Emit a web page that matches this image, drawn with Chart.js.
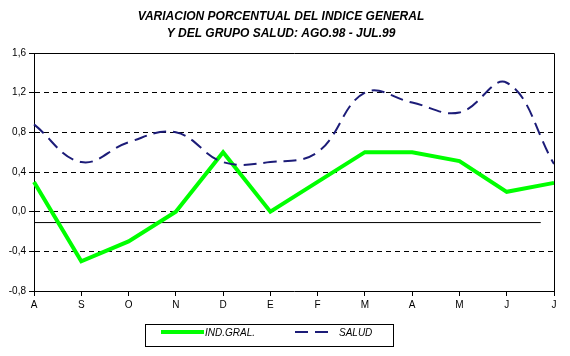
<!DOCTYPE html>
<html><head><meta charset="utf-8">
<script src="https://cdn.jsdelivr.net/npm/chart.js@4"></script>
<style>html,body{margin:0;padding:0;background:#fff}#wrap{width:570px;height:356px}</style>
</head><body><div id="wrap"><canvas id="c" width="570" height="356"></canvas></div>
<script>
const titleLines = ["VARIACION PORCENTUAL DEL INDICE GENERAL", "Y DEL GRUPO SALUD: AGO.98 - JUL.99"];
const categories = ["A","S","O","N","D","E","F","M","A","M","J","J"];
const indGral = [0.3,-0.5,-0.3,0.0,0.6,0.0,0.3,0.6,0.6,0.51,0.2,0.29];
const salud = [0.88,0.5,0.7,0.8,0.5,0.5,0.6,1.2,1.1,1.0,1.3,0.48];
const refLineY = -0.11;
const refLineX = [0, 10.72];
const yTicks = [-0.8,-0.4,0.0,0.4,0.8,1.2,1.6];
const seriesNames = ["IND.GRAL.","SALUD"];

const FONT = "'Liberation Sans', Arial, sans-serif";

const overlay = {
  id:'overlay',
  afterDraw(chart){
    const ctx = chart.ctx, a = chart.chartArea;
    ctx.save();
    ctx.strokeStyle='#000'; ctx.lineWidth=1; ctx.setLineDash([]);
    ctx.beginPath();
    ctx.moveTo(a.left, a.top+0.5); ctx.lineTo(a.right+0.5, a.top+0.5);
    ctx.lineTo(a.right+0.5, a.bottom);
    ctx.stroke();
    // title
    ctx.fillStyle='#000';
    ctx.font = "italic bold 12px " + FONT;
    ctx.textAlign='center'; ctx.textBaseline='middle';
    ctx.fillText(titleLines[0], 281, 17);
    ctx.fillText(titleLines[1], 281, 34);
    // legend
    ctx.lineWidth=1;
    ctx.strokeRect(145.5, 324.5, 248, 22);
    const ds = chart.data.datasets;
    ctx.strokeStyle = ds[0].borderColor; ctx.lineWidth = ds[0].borderWidth;
    ctx.beginPath(); ctx.moveTo(161,332); ctx.lineTo(204,332); ctx.stroke();
    ctx.strokeStyle = ds[1].borderColor; ctx.lineWidth = ds[1].borderWidth;
    ctx.setLineDash(ds[1].borderDash);
    ctx.beginPath(); ctx.moveTo(295,332); ctx.lineTo(333,332); ctx.stroke();
    ctx.setLineDash([]);
    ctx.fillStyle='#000';
    ctx.font = "italic 10px " + FONT;
    ctx.textAlign='left';
    ctx.fillText(seriesNames[0], 205, 333);
    ctx.fillText(seriesNames[1], 339, 333);
    ctx.restore();
  }
};

new Chart(document.getElementById('c'), {
  type:'line',
  data:{
    labels:categories,
    datasets:[
      {label:seriesNames[0], data:indGral, borderColor:'#00ff00', borderWidth:4, pointRadius:0, tension:0, fill:false, borderJoinStyle:'miter', order:2},
      {label:seriesNames[1], data:salud, borderColor:'#1c1c78', borderWidth:2, borderDash:[13,7], pointRadius:0, tension:0.4, fill:false, order:1},
      {label:'ref', xAxisID:'xl', data:[{x:refLineX[0],y:refLineY},{x:refLineX[1],y:refLineY}], borderColor:'#000', borderWidth:1, pointRadius:0, fill:false, order:3}
    ]
  },
  options:{
    responsive:false, animation:false, devicePixelRatio:1,
    layout:{padding:{left:0,top:53,right:16,bottom:0}},
    plugins:{legend:{display:false}, title:{display:false}, tooltip:{enabled:false}},
    scales:{
      x:{
        type:'category', offset:false,
        grid:{drawOnChartArea:false, drawTicks:true, tickLength:5, tickColor:'#000', color:'#000'},
        border:{display:true, color:'#000', width:1},
        ticks:{color:'#000', font:{family:FONT, size:10}, padding:3, maxRotation:0, autoSkip:false},
        afterFit(s){ s.height = 65; }
      },
      xl:{type:'linear', min:0, max:11, display:false},
      y:{
        min:-0.8, max:1.6,
        afterBuildTicks(s){ s.ticks = yTicks.map(v=>({value:v})); },
        grid:{
          color:(c)=> (c.tick && (Math.abs(c.tick.value-1.6)<1e-6 || Math.abs(c.tick.value+0.8)<1e-6)) ? 'rgba(0,0,0,0)' : '#000',
          lineWidth:1, drawTicks:true, tickLength:5, tickColor:'#000', tickBorderDash:[]
        },
        border:{display:true, color:'#000', width:1, dash:[5,4]},
        ticks:{color:'#000', font:{family:FONT, size:10}, padding:3,
          callback:(v)=> Number(v).toFixed(1).replace('.',',')},
        afterFit(s){ s.width = 34; }
      }
    }
  },
  plugins:[overlay]
});
</script></body></html>
